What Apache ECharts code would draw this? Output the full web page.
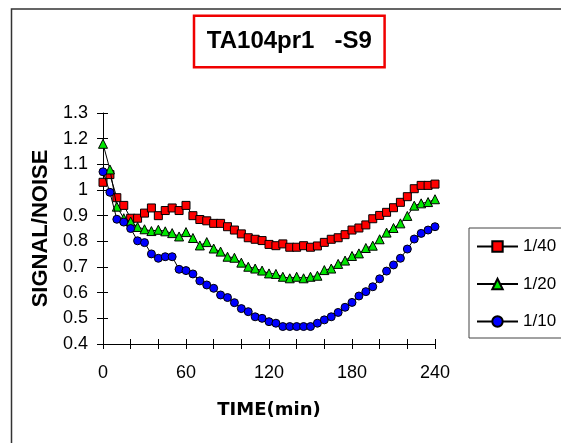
<!DOCTYPE html>
<html>
<head>
<meta charset="utf-8">
<script src="https://cdn.jsdelivr.net/npm/echarts@6/dist/echarts.min.js"></script>
<style>
html,body{margin:0;padding:0;background:#fff;}
#c{width:561px;height:443px;}
</style>
</head>
<body>
<div id="c"></div>
<script>
var titleText = 'TA104pr1   -S9';
var xName = 'TIME(min)';
var yName = 'SIGNAL/NOISE';
var seriesNames = ['1/40', '1/20', '1/10'];
var times = [0,5,10,15,20,25,30,35,40,45,50,55,60,65,70,75,80,85,90,95,100,105,110,115,120,125,130,135,140,145,150,155,160,165,170,175,180,185,190,195,200,205,210,215,220,225,230,235,240];
var red = [1.03,1.06,0.97,0.94,0.89,0.89,0.91,0.93,0.90,0.92,0.93,0.92,0.94,0.90,0.885,0.88,0.87,0.87,0.857,0.844,0.829,0.814,0.808,0.803,0.788,0.783,0.79,0.777,0.777,0.783,0.777,0.782,0.796,0.808,0.814,0.826,0.844,0.852,0.864,0.888,0.901,0.913,0.931,0.952,0.974,1.005,1.018,1.018,1.023];
var green = [1.18,1.08,0.935,0.89,0.877,0.856,0.847,0.84,0.845,0.839,0.832,0.819,0.836,0.813,0.784,0.797,0.772,0.76,0.74,0.736,0.717,0.701,0.694,0.686,0.675,0.673,0.662,0.656,0.662,0.656,0.662,0.666,0.688,0.694,0.712,0.725,0.743,0.753,0.774,0.783,0.808,0.834,0.852,0.87,0.899,0.939,0.948,0.953,0.964];
var blue = [1.071,0.991,0.886,0.875,0.85,0.802,0.795,0.751,0.734,0.74,0.74,0.691,0.686,0.673,0.646,0.63,0.617,0.591,0.581,0.561,0.538,0.526,0.506,0.5,0.487,0.481,0.468,0.468,0.468,0.468,0.468,0.481,0.494,0.506,0.523,0.543,0.562,0.587,0.604,0.623,0.654,0.684,0.708,0.734,0.77,0.809,0.831,0.844,0.857];

function pairs(v){ return times.map(function(t,i){ return [t, v[i]]; }); }

var chart = echarts.init(document.getElementById('c'), null, {renderer:'canvas'});
var FONT = '"Liberation Sans", Arial, sans-serif';
var option = {
  animation: false,
  backgroundColor: '#fff',
  textStyle: {fontFamily: FONT},
  grid: {left: 103, top: 113, width: 332, height: 231, containLabel: false},
  graphic: [
    {type:'rect', left: 9, top: 6.5, shape:{x:0,y:0,width:620,height:520}, style:{fill:'none', stroke:'#333', lineWidth:1.5}, z: 0},
    {type:'rect', shape:{x:194, y:15.7, width:190.6, height:51.6}, style:{fill:'#fff', stroke:'#f00000', lineWidth:2.5}, z: 10},
    {type:'text', x: 289.3, y: 41.5, style:{text: titleText, font: 'bold 24px ' + FONT, fill:'#000', align:'center', verticalAlign:'middle'}, z: 11}
  ],
  legend: {
    orient: 'vertical',
    left: 469, top: 228,
    padding: [10, 24, 8, 7],
    itemWidth: 41, itemHeight: 13, itemGap: 20.5,
    borderColor: '#444', borderWidth: 1,
    backgroundColor: '#fff',
    textStyle: {fontSize: 17, color: '#000', fontFamily: FONT},
    data: seriesNames
  },
  xAxis: [
    {type:'value', min:0, max:240, interval:20, position:'bottom',
     name: xName, nameLocation:'middle', nameGap: 57,
     nameTextStyle:{fontSize:18, fontWeight:'bold', color:'#000', fontFamily:'"DejaVu Sans", sans-serif'},
     axisLine:{show:true, onZero:false, lineStyle:{color:'#000', width:1}},
     axisTick:{show:true, inside:false, length:5, lineStyle:{color:'#000'}},
     axisLabel:{margin:20, fontSize:18, color:'#000', fontFamily: FONT, formatter:function(v){ return (v % 60 === 0) ? String(v) : ''; }},
     splitLine:{show:false}},
    {type:'value', min:0, max:240, interval:20, position:'bottom',
     axisLine:{show:false}, axisTick:{show:true, inside:true, length:5, lineStyle:{color:'#000'}},
     axisLabel:{show:false}, splitLine:{show:false}}
  ],
  yAxis: [
    {type:'value', min:0.4, max:1.3, interval:0.1, position:'left',
     name: yName, nameLocation:'middle', nameGap: 49, nameRotate: 90,
     nameTextStyle:{fontSize:22, fontWeight:'bold', color:'#000', fontFamily: FONT},
     axisLine:{show:true, onZero:false, lineStyle:{color:'#000', width:1}},
     axisTick:{show:true, inside:false, length:6, lineStyle:{color:'#000'}},
     axisLabel:{margin:15, fontSize:18, color:'#000', fontFamily: FONT},
     splitLine:{show:false}},
    {type:'value', min:0.4, max:1.3, interval:0.1, position:'left',
     axisLine:{show:false}, axisTick:{show:true, inside:true, length:5, lineStyle:{color:'#000'}},
     axisLabel:{show:false}, splitLine:{show:false}}
  ],
  series: [
    {name: seriesNames[0], type:'line', data: pairs(red), symbol:'rect', symbolSize:8,
     lineStyle:{color:'#000', width:1}, itemStyle:{color:'#ff0000', borderColor:'#000', borderWidth:1}, z:2},
    {name: seriesNames[1], type:'line', data: pairs(green), symbol:'triangle', symbolSize:9,
     lineStyle:{color:'#000', width:1}, itemStyle:{color:'#00e600', borderColor:'#000', borderWidth:1}, z:3},
    {name: seriesNames[2], type:'line', data: pairs(blue), symbol:'circle', symbolSize:8,
     lineStyle:{color:'#000', width:1}, itemStyle:{color:'#0000ff', borderColor:'#000', borderWidth:1}, z:4}
  ]
};
chart.setOption(option);
</script>
</body>
</html>
